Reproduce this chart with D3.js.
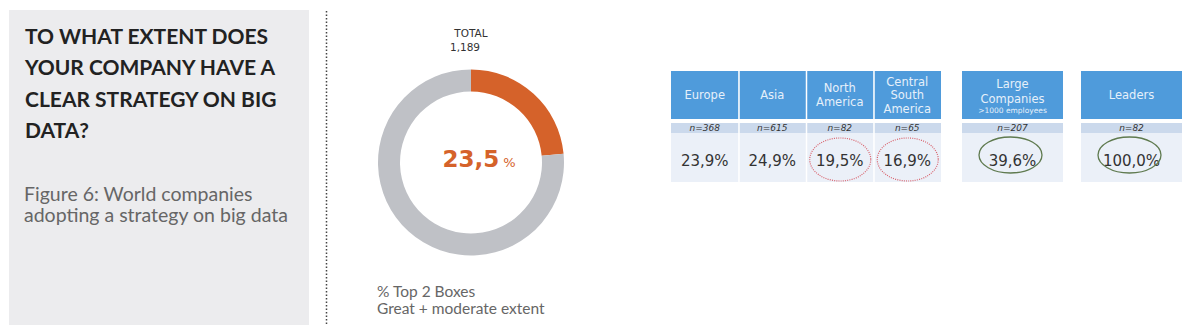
<!DOCTYPE html>
<html><head><meta charset="utf-8">
<script src="https://cdn.jsdelivr.net/npm/d3@7"></script>
<style>
html,body{margin:0;padding:0;background:#fff;}
svg{display:block;}
</style></head>
<body>
<svg id="chart" width="1200" height="325"></svg>
<script>
// ---- data ----
const titleLines = ["TO WHAT EXTENT DOES", "YOUR COMPANY HAVE A", "CLEAR STRATEGY ON BIG", "DATA?"];
const subtitleLines = ["Figure 6: World companies", "adopting a strategy on big data"];
const totalLabel = "TOTAL";
const totalCount = "1,189";
const totalShare = 23.5;
const footnoteLines = ["% Top 2 Boxes", "Great + moderate extent"];

const categories = ["Europe", "Asia", "North America", "Central South America", "Large Companies", "Leaders"];
const headerLines = [["Europe"], ["Asia"], ["North", "America"], ["Central", "South", "America"], ["Large", "Companies"], ["Leaders"]];
const headerSub = ["", "", "", "", ">1000 employees", ""];
const sampleSizes = [368, 615, 82, 65, 207, 82];
const shares = [23.9, 24.9, 19.5, 16.9, 39.6, 100.0];
const groupOf = [0, 0, 0, 0, 1, 2];
const highlight = ["", "", "low", "low", "high", "high"];

// ---- drawing ----
const svg = d3.select("#chart");
const fmt = v => v.toFixed(1).replace(".", ",");

// left panel
svg.append("rect").attr("x", 9).attr("y", 10).attr("width", 300).attr("height", 320).attr("fill", "#ececee");
svg.append("g").selectAll("text").data(titleLines).join("text")
  .attr("x", 25).attr("y", (d, i) => 44 + i * 31.3)
  .attr("font-family", "Lato, 'Open Sans', sans-serif").attr("font-weight", 700)
  .attr("font-size", 21).attr("fill", "#222").text(d => d);
svg.append("g").selectAll("text").data(subtitleLines).join("text")
  .attr("x", 24).attr("y", (d, i) => 200.5 + i * 21)
  .attr("font-family", "Lato, 'Open Sans', sans-serif")
  .attr("font-size", 19.5).attr("fill", "#666").text(d => d);

// dotted divider
svg.append("line").attr("x1", 326.5).attr("x2", 326.5).attr("y1", 11).attr("y2", 325)
  .attr("stroke", "#444").attr("stroke-width", 1.5).attr("stroke-dasharray", "1.5,2");

// donut
const cx = 471, cy = 162.5;
const pie = d3.pie().sort(null).value(d => d);
const arc = d3.arc().innerRadius(71).outerRadius(93);
const donut = svg.append("g").attr("transform", `translate(${cx},${cy})`);
donut.selectAll("path").data(pie([totalShare, 100 - totalShare])).join("path")
  .attr("d", arc).attr("fill", (d, i) => i === 0 ? "#d5622a" : "#bfc1c6");
const ctext = donut.append("text").attr("text-anchor", "middle").attr("x", 8).attr("y", 4.5)
  .attr("font-family", "'DejaVu Sans', Verdana, sans-serif").attr("fill", "#d5622a");
ctext.append("tspan").attr("font-weight", "bold").attr("font-size", 23).text(fmt(totalShare));
ctext.append("tspan").attr("font-size", 13).attr("dx", 4).text("%");

svg.append("text").attr("x", 471).attr("y", 37).attr("text-anchor", "middle")
  .attr("font-family", "'DejaVu Sans', Verdana, sans-serif").attr("font-size", 10.5).attr("fill", "#333").text(totalLabel);
svg.append("text").attr("x", 465).attr("y", 50.5).attr("text-anchor", "middle")
  .attr("font-family", "'DejaVu Sans', Verdana, sans-serif").attr("font-size", 10.5).attr("fill", "#333").text(totalCount);

svg.append("g").selectAll("text").data(footnoteLines).join("text")
  .attr("x", 377).attr("y", (d, i) => 296.5 + i * 17.5)
  .attr("font-family", "Lato, 'Open Sans', sans-serif")
  .attr("font-size", 15.5).attr("fill", "#666").text(d => d);

// table
const groupStarts = [671, 962, 1081];
const groupEnds = [941, 1063, 1182];
const groupScales = groupStarts.map((s, g) => d3.scaleBand()
  .domain(categories.filter((c, i) => groupOf[i] === g))
  .range([s, groupEnds[g]]).paddingInner(0));
const colX = (c, i) => groupScales[groupOf[i]](c);
const colW = (c, i) => groupScales[groupOf[i]].bandwidth();

const y = { headTop: 71, headBot: 119, nTop: 123, nBot: 133, valBot: 182 };
const table = svg.append("g");
const cols = table.selectAll("g.col").data(categories).join("g").attr("class", "col");

cols.append("rect").attr("x", colX).attr("y", y.headTop).attr("width", colW)
  .attr("height", y.headBot - y.headTop).attr("fill", "#4f9bdb");
cols.append("rect").attr("x", colX).attr("y", y.nTop).attr("width", colW)
  .attr("height", y.nBot - y.nTop).attr("fill", "#cbd9ec");
cols.append("rect").attr("x", colX).attr("y", y.nBot).attr("width", colW)
  .attr("height", y.valBot - y.nBot).attr("fill", "#ebf0f8");
// white separators
cols.filter((c, i) => i > 0 && groupOf[i] === groupOf[i - 1]).append("line")
  .attr("x1", (c) => colX(c, categories.indexOf(c)) + 0.5)
  .attr("x2", (c) => colX(c, categories.indexOf(c)) + 0.5)
  .attr("y1", y.headTop).attr("y2", y.valBot).attr("stroke", "#fff").attr("stroke-width", 1.5);

const ff = "'DejaVu Sans', Verdana, sans-serif";
cols.each(function (c, i) {
  const g = d3.select(this);
  const x0 = colX(c, i), w = colW(c, i), mid = x0 + w / 2;
  const lines = headerLines[i];
  const lh = lines.length === 3 ? 13.5 : 14.5;
  let base;
  if (headerSub[i]) base = 88;
  else base = 99 - (lines.length - 1) * lh / 2;
  lines.forEach((l, k) => {
    g.append("text").attr("x", mid).attr("y", base + k * lh).attr("text-anchor", "middle")
      .attr("font-family", ff).attr("font-size", 11.5).attr("fill", "#e6f0fa").text(l);
  });
  if (headerSub[i]) {
    g.append("text").attr("x", mid).attr("y", 113).attr("text-anchor", "middle")
      .attr("font-family", ff).attr("font-size", 7.5).attr("fill", "#e6f0fa").text(headerSub[i]);
  }
  g.append("text").attr("x", mid).attr("y", 131).attr("text-anchor", "middle")
    .attr("font-family", ff).attr("font-style", "italic").attr("font-size", 9).attr("fill", "#333")
    .text("n=" + sampleSizes[i]);
  g.append("text").attr("x", mid).attr("y", 166).attr("text-anchor", "middle")
    .attr("font-family", ff).attr("font-size", 15).attr("fill", "#333").text(fmt(shares[i]) + "%");
  if (highlight[i] === "low") {
    g.append("ellipse").attr("cx", mid + 0.5).attr("cy", 159.5).attr("rx", 30.5).attr("ry", 21.5)
      .attr("fill", "none").attr("stroke", "#d9626c").attr("stroke-width", 1.2).attr("stroke-dasharray", "1,1.2");
  } else if (highlight[i] === "high") {
    g.append("ellipse").attr("cx", mid - 2).attr("cy", 155).attr("rx", 31.5).attr("ry", 18)
      .attr("fill", "none").attr("stroke", "#5f7a4f").attr("stroke-width", 1.3);
  }
});
</script>
</body></html>
